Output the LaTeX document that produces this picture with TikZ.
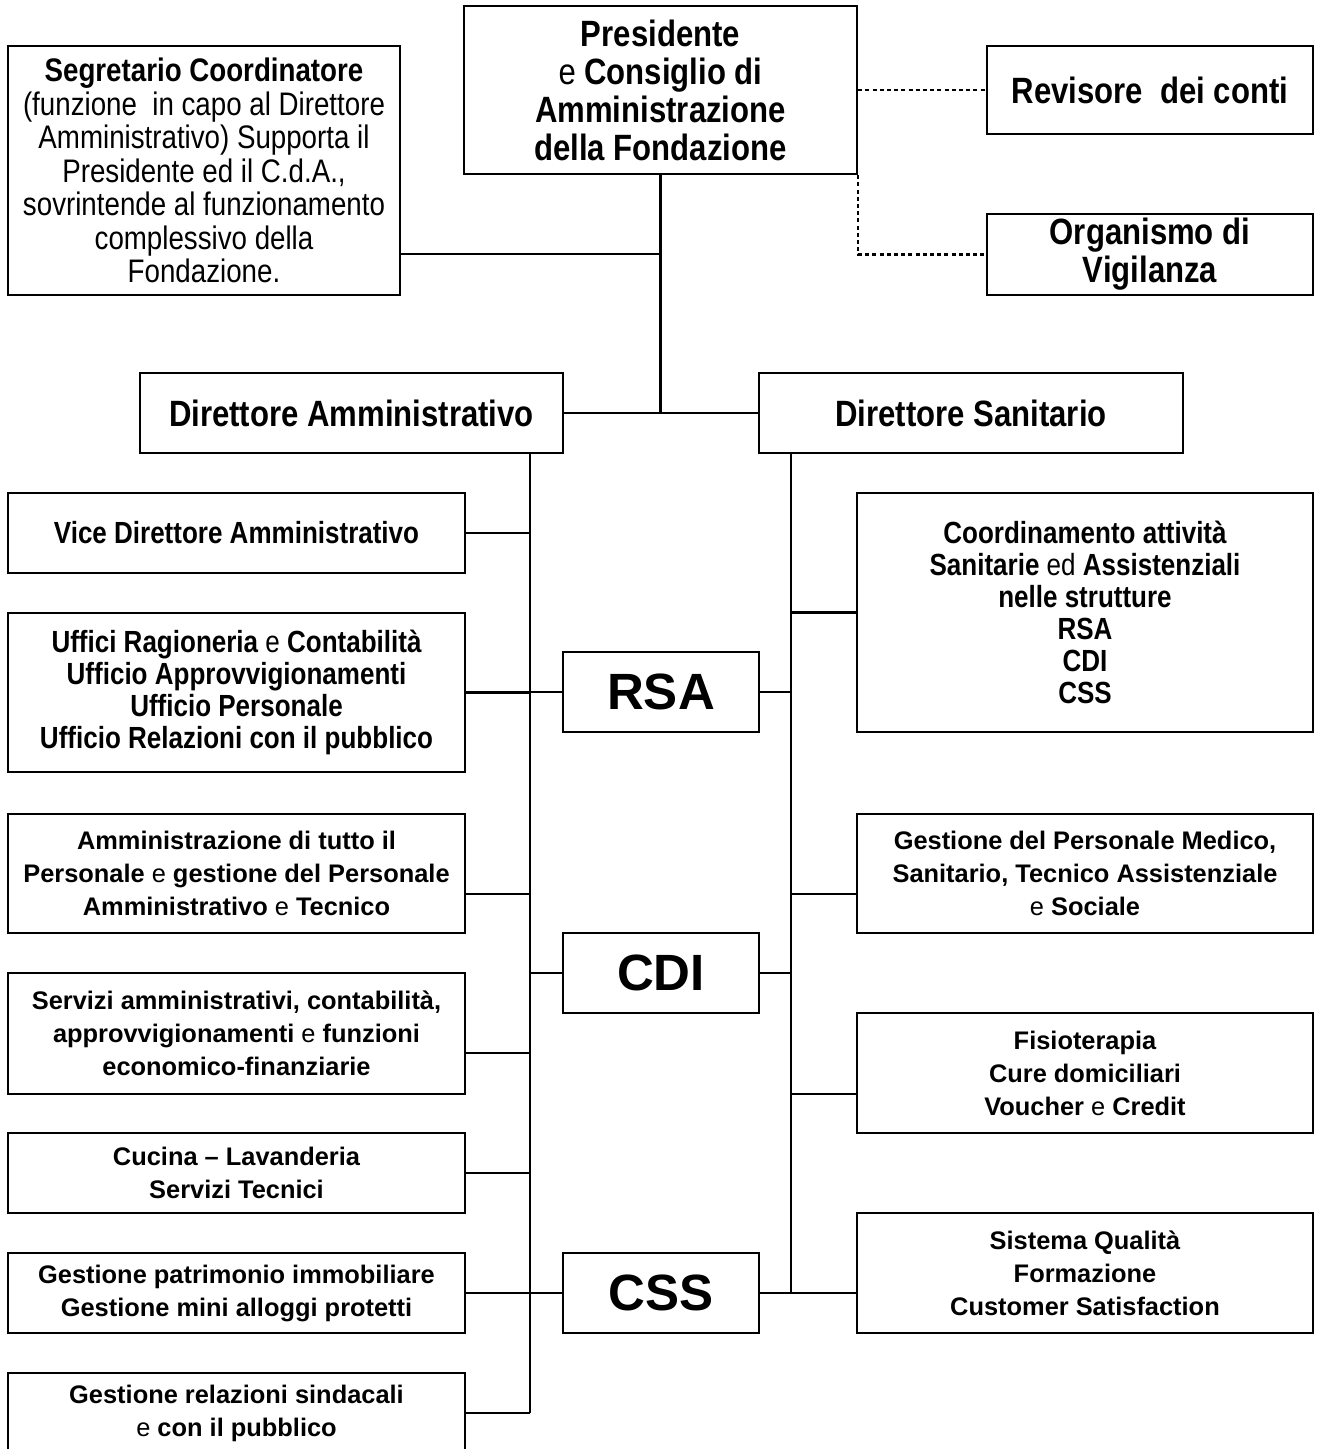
\documentclass[tikz,border=0pt]{standalone}
\usepackage{fontspec}
\setmainfont{Liberation Sans}
\newfontfamily\nrw[FakeStretch=0.85]{Liberation Sans}
\usetikzlibrary{calc}
\tikzset{
  box/.style={draw,line width=1.15pt,align=center,inner sep=0pt},
  lcol/.style={box,minimum width=228.5pt},
  rcol/.style={box,minimum width=228pt},
  site/.style={box,minimum width=98pt,minimum height=40pt,font={\bfseries\fontsize{25.5}{28}\selectfont}},
  segfont/.style={font={\nrw\fontsize{16.3}{16.75}\selectfont}},
  bigfont/.style={font={\nrw\bfseries\fontsize{18.3}{19}\selectfont}},
  midfont/.style={font={\nrw\bfseries\fontsize{15.3}{16}\selectfont}},
  lowfont/.style={font={\bfseries\fontsize{12.7}{16.5}\selectfont}},
  link/.style={line width=1.15pt},
  dotlink/.style={line width=1.15pt,dash pattern=on 2pt off 1.6pt}
}
\newcommand{\rg}[1]{{\mdseries #1}}
\newcommand{\jn}[2]{\coordinate (#1) at (#2);}

\begin{document}
\begin{tikzpicture}[x=0.5pt,y=-0.5pt]
  \useasboundingbox (0,0) rectangle (1316,1449);
  \node[box,segfont,minimum width=196pt,minimum height=124.5pt] (seg) at (204,170.5)
    {\textbf{Segretario Coordinatore}\\(funzione\ \ in capo al Direttore\\Amministrativo) Supporta il\\Presidente ed il C.d.A.,\\sovrintende al funzionamento\\complessivo della\\Fondazione.};
  \node[box,bigfont,minimum width=196.5pt,minimum height=84pt] (pres) at (660.5,90)
    {Presidente\\\rg{e} Consiglio di\\Amministrazione\\della Fondazione};
  \node[box,bigfont,minimum width=163pt,minimum height=44pt] (rev) at (1150,90) {Revisore\ \ dei conti};
  \node[box,bigfont,minimum width=163pt,minimum height=40.5pt] (org) at (1150,254.5) {Organismo di\\Vigilanza};
  \node[box,bigfont,minimum width=211.5pt,minimum height=40pt] (dirA) at (351.5,413) {Direttore Amministrativo};
  \node[box,bigfont,minimum width=212pt,minimum height=40pt] (dirS) at (971,413) {Direttore Sanitario};
  \node[lcol,midfont,minimum height=40pt] (vice) at (236.5,533) {Vice Direttore Amministrativo};
  \node[lcol,midfont,minimum height=79.5pt] (uff) at (236.5,692.5)
    {Uffici Ragioneria \rg{e} Contabilità\\Ufficio Approvvigionamenti\\Ufficio Personale\\Ufficio Relazioni con il pubblico};
  \node[lcol,lowfont,minimum height=59.5pt] (amm) at (236.5,873.5)
    {Amministrazione di tutto il\\Personale \rg{e} gestione del Personale\\Amministrativo \rg{e} Tecnico};
  \node[lcol,lowfont,minimum height=60.5pt] (serv) at (236.5,1033.5)
    {Servizi amministrativi, contabilità,\\approvvigionamenti \rg{e} funzioni\\economico-finanziarie};
  \node[lcol,lowfont,minimum height=40pt] (cuc) at (236.5,1173) {Cucina – Lavanderia\\Servizi Tecnici};
  \node[lcol,lowfont,minimum height=40pt] (patr) at (236.5,1293) {Gestione patrimonio immobiliare\\Gestione mini alloggi protetti};
  \node[lcol,lowfont,minimum height=40pt] (sind) at (236.5,1413) {Gestione relazioni sindacali\\\rg{e} con il pubblico};
  \node[site] (rsa) at (661,692) {RSA};
  \node[site] (cdi) at (661,973) {CDI};
  \node[site] (css) at (661,1293) {CSS};
  \node[rcol,midfont,minimum height=119.5pt] (coord) at (1085,612.5)
    {Coordinamento attività\\Sanitarie \rg{ed} Assistenziali\\nelle strutture\\RSA\\CDI\\CSS};
  \node[rcol,lowfont,minimum height=59.5pt] (gpers) at (1085,873.5)
    {Gestione del Personale Medico,\\Sanitario, Tecnico Assistenziale\\\rg{e} Sociale};
  \node[rcol,lowfont,minimum height=60pt] (fisio) at (1085,1073) {Fisioterapia\\Cure domiciliari\\Voucher \rg{e} Credit};
  \node[rcol,lowfont,minimum height=60pt] (qual) at (1085,1273) {Sistema Qualità\\Formazione\\Customer Satisfaction};
  \jn{tA}{530,0}
  \jn{tS}{791,0}
  \jn{hSeg}{661,254}
  \jn{jAmm}{530,894}
  \jn{jServ}{530,1053}
  \jn{jPers}{791,894}
  \jn{jFisio}{791,1094}
  \draw[link] (pres.south) -- (pres.south |- dirA.east);
  \draw[link] (dirA.east) -- (dirS.west);
  \draw[link] (seg.east |- hSeg) -- (hSeg);
  \draw[dotlink] (pres.east) -- (rev.west);
  \draw[dotlink] (pres.south east) -- (pres.south east |- org.west) -- (org.west);
  \draw[link] (tA |- dirA.south) -- (tA |- sind.east);
  \draw[link] (tS |- dirS.south) -- (tS |- css.east);
  \foreach \b in {vice,uff,cuc,patr,sind}
    \draw[link] (\b.east) -- (tA |- \b.east);
  \draw[link] (jAmm -| amm.east) -- (jAmm);
  \draw[link] (jServ -| serv.east) -- (jServ);
  \foreach \b in {rsa,cdi,css}
    \draw[link] (tA |- \b.west) -- (\b.west) (\b.east) -- (tS |- \b.east);
  \draw[link] (css.east) -- (qual.west |- css.east);
  \draw[link] (tS |- coord.west) -- (coord.west);
  \draw[link] (jPers) -- (jPers -| gpers.west);
  \draw[link] (jFisio) -- (jFisio -| fisio.west);
\end{tikzpicture}
\end{document}
